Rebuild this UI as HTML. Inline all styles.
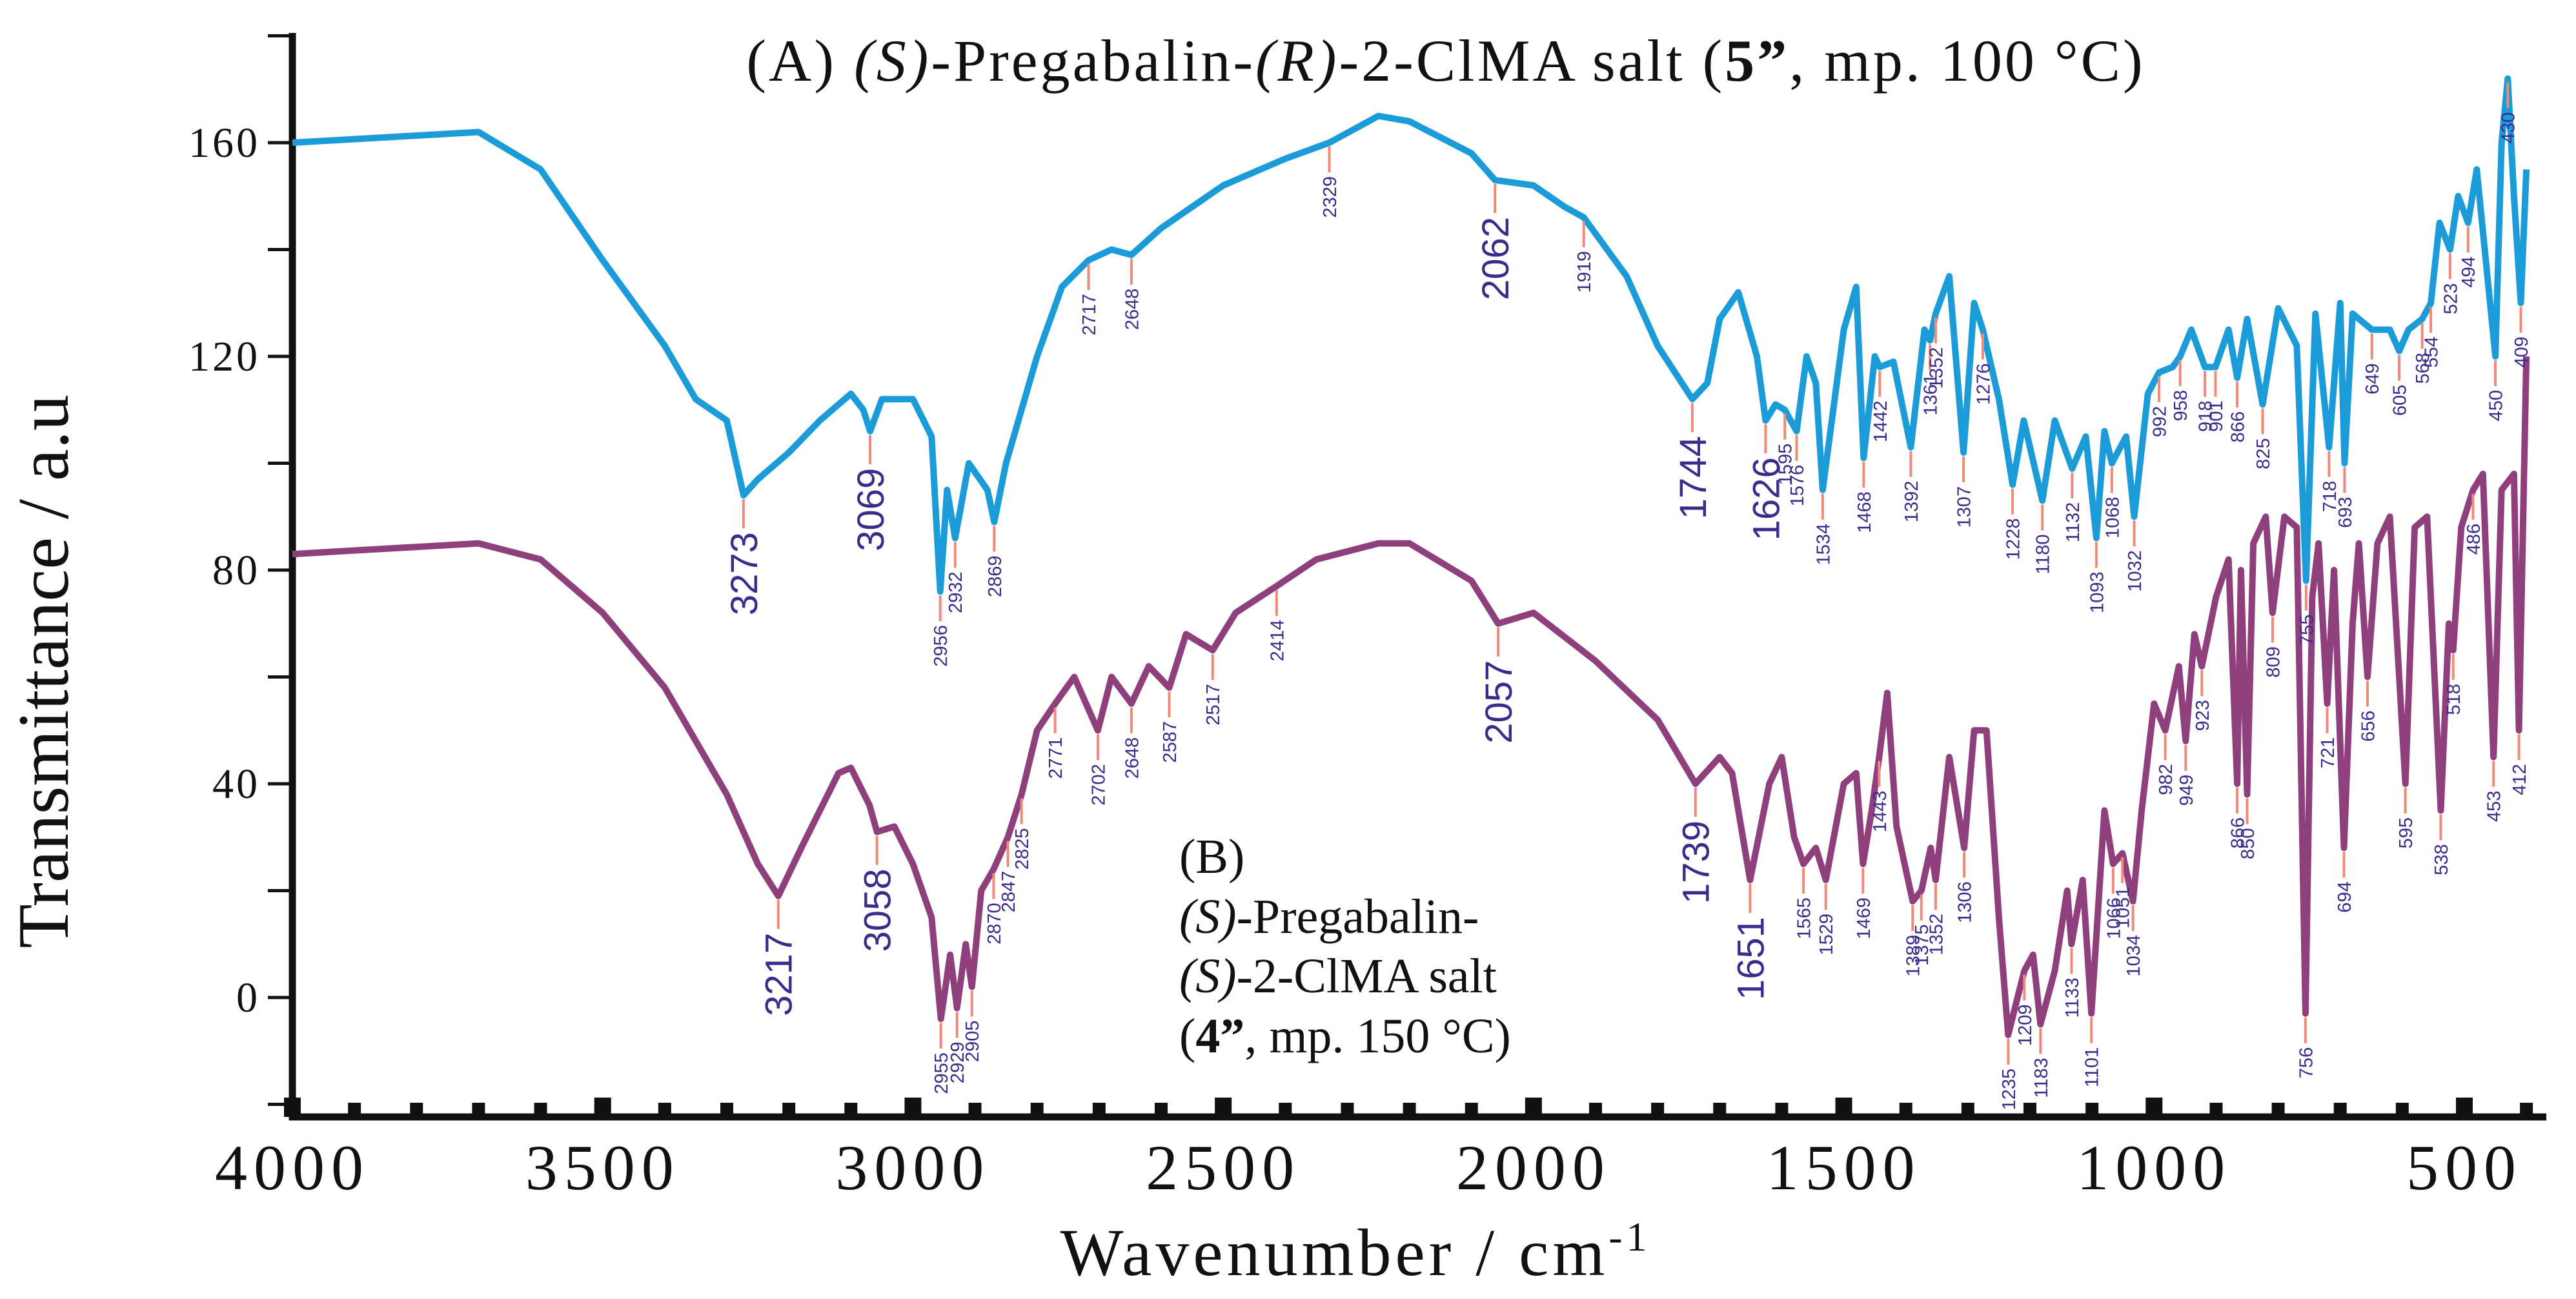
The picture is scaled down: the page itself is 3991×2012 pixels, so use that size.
<!DOCTYPE html>
<html><head><meta charset="utf-8"><style>
html,body{margin:0;padding:0;background:#fff}
svg{display:block}
</style></head><body>
<svg id="chart" width="3991" height="2012" viewBox="0 0 3991 2012" xmlns="http://www.w3.org/2000/svg">
<g id="axes"></g>
<g id="series"></g>
<g id="labels"></g>
<text x="2240" y="125" font-family="Liberation Serif, serif" font-size="92" letter-spacing="4" text-anchor="middle" fill="#111">(A) <tspan font-style="italic">(S)</tspan>-Pregabalin-<tspan font-style="italic">(R)</tspan>-2-ClMA salt (<tspan font-weight="bold">5”</tspan>, mp. 100 °C)</text>
<g font-family="Liberation Serif, serif" font-size="76" fill="#111">
<text x="1827" y="1352">(B)</text>
<text x="1827" y="1445"><tspan font-style="italic">(S)</tspan>-Pregabalin-</text>
<text x="1827" y="1537"><tspan font-style="italic">(S)</tspan>-2-ClMA salt</text>
<text x="1827" y="1630">(<tspan font-weight="bold">4”</tspan>, mp. 150 °C)</text>
</g>
<text x="2100" y="1975" font-family="Liberation Serif, serif" font-size="104" letter-spacing="6" text-anchor="middle" fill="#111">Wavenumber / cm<tspan dy="-38" font-size="64">-1</tspan></text>
<text transform="translate(105,1040) rotate(-90)" font-family="Liberation Serif, serif" font-size="112" text-anchor="middle" fill="#111">Transmittance / a.u</text>
</svg>
<script>
const xTicks=[4000,3500,3000,2500,2000,1500,1000,500];
const yTicks=[0,40,80,120,160];
const seriesAx=[4000,3700,3600,3500,3400,3350,3300,3273,3250,3200,3150,3100,3080,3069,3050,3000,2970,2956,2945,2932,2910,2880,2869,2850,2800,2760,2717,2680,2648,2600,2500,2400,2329,2250,2200,2100,2062,2000,1950,1919,1850,1800,1744,1720,1700,1670,1640,1626,1610,1595,1576,1560,1545,1534,1500,1480,1468,1450,1442,1420,1392,1370,1361,1352,1330,1307,1290,1276,1250,1228,1210,1180,1160,1132,1110,1093,1080,1068,1045,1032,1010,992,970,958,940,918,901,880,866,850,825,800,770,755,740,718,700,693,680,649,620,605,590,568,554,540,523,510,494,480,450,440,430,420,409,400];
const seriesAy=[160,162,155,138,122,112,108,94,97,102,108,113,110,106,112,112,105,76,95,86,100,95,89,100,120,133,138,140,139,144,152,157,160,165,164,158,153,152,148,146,135,122,112,115,127,132,120,108,111,110,106,120,115,95,125,133,101,120,118,119,103,125,123,128,135,102,130,125,112,96,108,93,108,99,105,86,106,100,105,90,113,117,118,120,125,118,118,125,116,127,111,129,122,78,128,103,130,100,128,125,125,121,125,127,130,145,140,150,145,155,120,160,172,150,130,155];
const seriesBx=[4000,3700,3600,3500,3400,3300,3250,3217,3180,3120,3100,3070,3058,3030,3000,2970,2955,2940,2929,2915,2905,2890,2870,2847,2825,2800,2771,2740,2702,2680,2648,2620,2587,2560,2517,2480,2414,2350,2250,2200,2100,2057,2000,1900,1800,1739,1700,1680,1651,1620,1600,1580,1565,1545,1529,1500,1480,1469,1455,1443,1430,1415,1389,1375,1360,1352,1330,1306,1290,1270,1250,1235,1220,1209,1195,1183,1160,1140,1133,1115,1101,1080,1066,1051,1034,1020,1000,982,960,949,935,923,900,880,866,860,850,840,820,809,790,770,756,745,735,721,710,694,680,670,656,640,620,595,580,560,538,525,518,505,486,470,453,440,420,412,400];
const seriesBy=[83,85,82,72,58,38,25,19,28,42,43,36,31,32,25,15,-4,8,-2,10,2,20,24,30,38,50,55,60,50,60,55,62,58,68,65,72,77,82,85,85,78,70,72,63,52,40,45,42,22,40,45,30,25,28,22,40,42,25,35,45,57,32,18,20,28,22,45,28,50,50,15,-7,0,5,8,-5,5,20,10,22,-3,35,25,27,18,35,55,50,62,48,68,62,75,82,40,80,38,85,90,72,90,88,-3,75,85,55,80,28,70,85,60,85,90,40,88,90,35,70,65,88,95,98,45,95,98,50,120];
const labelsA=[3273,3069,2956,2932,2869,2717,2648,2329,2062,1919,1744,1626,1595,1576,1534,1468,1442,1392,1361,1352,1307,1276,1228,1180,1132,1093,1068,1032,992,958,918,901,866,825,755,718,693,649,605,568,554,523,494,450,430,409];
const labelsB=[3217,3058,2955,2929,2905,2870,2847,2825,2771,2702,2648,2587,2517,2414,2057,1739,1651,1565,1529,1469,1443,1389,1375,1352,1306,1235,1209,1183,1133,1101,1066,1051,1034,982,949,923,866,850,809,756,721,694,656,595,538,518,486,453,412];
const bigLabels=[3273,3069,2062,1744,1626,3217,3058,2057,1739,1651];

const X0=453,X1=3818,Y0=1545,Y160=221;
const xs=w=>X0+(4000-w)*(X1-X0)/3500;
const ys=v=>Y0-v*(Y0-Y160)/160;
const NS="http://www.w3.org/2000/svg";
function mk(tag,attrs,parent){const e=document.createElementNS(NS,tag);for(const k in attrs)e.setAttribute(k,attrs[k]);parent.appendChild(e);return e;}
const axes=document.getElementById('axes');
let yl=mk('line',{x1:X0,y1:51,x2:X0,y2:1735,stroke:'#111','stroke-width':11},axes);


let xl=mk('line',{x1:X0-5,y1:1730,x2:3945,y2:1730,stroke:'#111','stroke-width':11},axes);


for(let v=-20;v<=180;v+=20){
  const t=mk('line',{x1:X0-38,y1:ys(v),x2:X0,y2:ys(v),stroke:'#111','stroke-width':5},axes);
  
  
}
yTicks.forEach(v=>{
  const t=mk('text',{x:X0-50,y:ys(v)+22,'text-anchor':'end','font-family':'Liberation Serif, serif','font-size':66,'letter-spacing':4,fill:'#111'},axes);
  t.textContent=v;
  
  
});
for(let w=4000;w>=400;w-=100){
  const big=(w%500===0);
  const s=big?26:20;
  const r=mk('rect',{x:xs(w)-s/2,y:1730-(big?30:22),width:s,height:big?30:22,fill:'#111'},axes);
  
  
}
xTicks.forEach(w=>{
  const t=mk('text',{x:xs(w),y:1842,'text-anchor':'middle','font-family':'Liberation Serif, serif','font-size':100,'letter-spacing':10,fill:'#111'},axes);
  t.textContent=w;
  
  
});
const ser=document.getElementById('series');
function path(xa,ya,color,name){
  let d='';xa.forEach((w,i)=>{d+=(i?'L':'M')+xs(w).toFixed(1)+','+ys(ya[i]).toFixed(1);});
  const p=mk('path',{d:d,fill:'none',stroke:color,'stroke-width':10,'stroke-linejoin':'round'},ser);
  
  
}
path(seriesAx,seriesAy,'#1b9bd8','series-a-line');
path(seriesBx,seriesBy,'#8f3f7b','series-b-line');
function interp(xa,ya,w){for(let i=0;i<xa.length-1;i++){if(w<=xa[i]&&w>=xa[i+1]){const t=(xa[i]-w)/(xa[i]-xa[i+1]||1);return ya[i]+t*(ya[i+1]-ya[i]);}}return ya[ya.length-1];}
const lab=document.getElementById('labels');
function labels(list,xa,ya,name){
  list.forEach(w=>{
    const big=bigLabels.includes(w);
    const x=xs(w),y=ys(interp(xa,ya,w))+6;
    const len=big?45:40;
    const l=mk('line',{x1:x,y1:y,x2:x,y2:y+len,stroke:'#f08a78','stroke-width':4},lab);
    
    
    const fs=big?58:29;
    const t=mk('text',{transform:`translate(${x+fs*0.36},${y+len+6}) rotate(-90)`,'text-anchor':'end','font-family':'Liberation Sans, sans-serif','font-size':fs,fill:'#3b2c8c'},lab);
    t.textContent=w;
    
    
  });
}
labels(labelsA,seriesAx,seriesAy,'peak-label-a');
labels(labelsB,seriesBx,seriesBy,'peak-label-b');
</script>
</body></html>
